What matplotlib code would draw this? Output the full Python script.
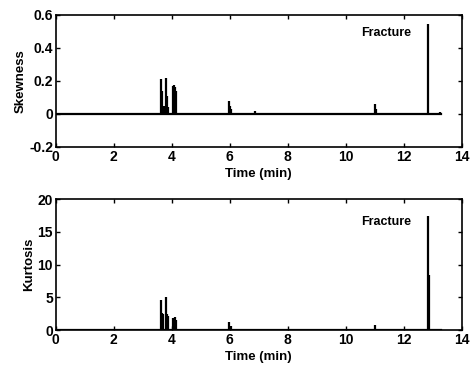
import matplotlib
matplotlib.use("Agg")
import matplotlib.pyplot as plt

# spike positions (min) and peak values
skew_t = [3.63, 3.68, 3.72, 3.80, 3.84, 3.87, 4.05, 4.08, 4.12, 4.15,
          5.98, 6.02, 6.06, 6.88, 11.00, 11.04, 12.85, 13.25]
skew_v = [0.21, 0.14, 0.05, 0.22, 0.11, 0.04, 0.17, 0.175, 0.16, 0.14,
          0.08, 0.05, 0.03, 0.015, 0.06, 0.03, 0.545, 0.01]

kurt_t = [3.63, 3.66, 3.70, 3.80, 3.83, 3.86, 4.05, 4.10, 4.14,
          5.98, 6.03, 11.02, 12.85, 12.865]
kurt_v = [4.6, 2.6, 2.5, 5.0, 2.5, 2.2, 1.8, 2.0, 1.5,
          1.3, 0.6, 0.8, 17.5, 8.4]

t_end = 13.3
x_ticks = [0, 2, 4, 6, 8, 10, 12, 14]

plt.rcParams['font.family'] = ['Liberation Sans', 'DejaVu Sans']
plt.rcParams['font.weight'] = 'bold'
plt.rcParams['font.size'] = 10

fig = plt.figure(figsize=(4.73, 3.71), dpi=100)
ax1 = fig.add_axes([0.118, 0.604, 0.858, 0.356])
ax2 = fig.add_axes([0.118, 0.110, 0.858, 0.353])


def style(ax):
    for s in ax.spines.values():
        s.set_linewidth(1.2)
    ax.tick_params(direction='in', top=True, right=True, length=3, width=1, pad=2)
    ax.set_xlim(0, 14)
    ax.set_xticks(x_ticks)
    ax.set_xlabel("Time (min)", fontsize=9.5, fontweight='bold', labelpad=3)


# skewness
ax1.plot([0, t_end], [0, 0], color='black', lw=1.6)
ax1.vlines(skew_t, 0, skew_v, color='black', lw=1.6)
ax1.set_ylim(-0.2, 0.6)
ax1.set_yticks([-0.2, 0, 0.2, 0.4, 0.6])
ax1.set_yticklabels(['-0.2', '0', '0.2', '0.4', '0.6'])
ax1.set_ylabel("Skewness", fontsize=9.5, fontweight='bold', labelpad=2)
ax1.text(12.25, 0.49, "Fracture", ha='right', va='center', fontsize=9, fontweight='bold')
style(ax1)

# kurtosis
ax2.plot([0, t_end], [0, 0], color='black', lw=1.6)
ax2.vlines(kurt_t, 0, kurt_v, color='black', lw=1.6)
ax2.set_ylim(0, 20)
ax2.set_yticks([0, 5, 10, 15, 20])
ax2.set_ylabel("Kurtosis", fontsize=9.5, fontweight='bold', labelpad=2)
ax2.text(12.25, 16.5, "Fracture", ha='right', va='center', fontsize=9, fontweight='bold')
style(ax2)

fig.savefig("out.png", dpi=100)
